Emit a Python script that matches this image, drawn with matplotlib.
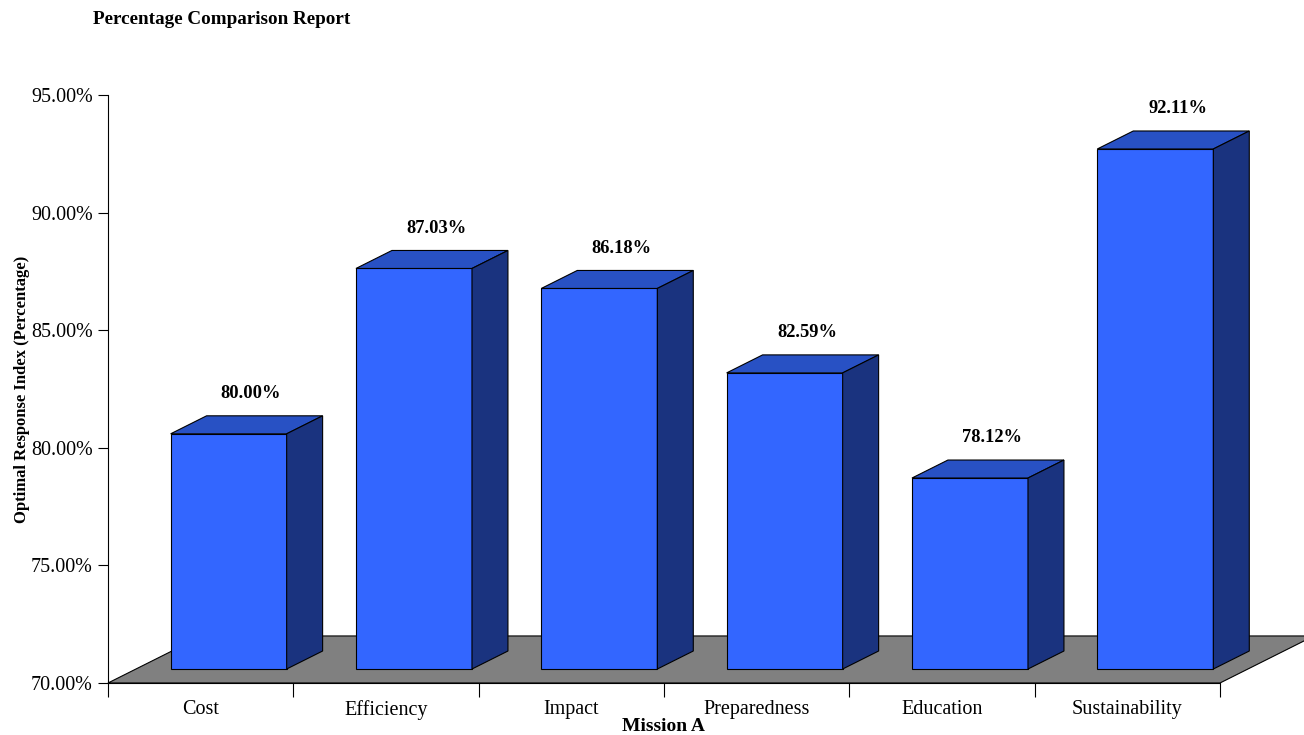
import matplotlib.pyplot as plt
from matplotlib.patches import Polygon

categories = ["Cost", "Efficiency", "Impact", "Preparedness", "Education", "Sustainability"]
values = [80.00, 87.03, 86.18, 82.59, 78.12, 92.11]
labels = ["80.00%", "87.03%", "86.18%", "82.59%", "78.12%", "92.11%"]

plt.rcParams['font.family'] = ['Liberation Serif', 'DejaVu Serif']

fig = plt.figure(figsize=(13.04, 7.35), dpi=100)
ax = fig.add_axes([108/1304, 52/735, 1112/1304, 588/735])

ymin, ymax = 70, 95
ax.set_xlim(0, 6)
ax.set_ylim(ymin, ymax)

# pseudo 3d offsets in data units
fdx, fdy = 0.507, 2.0      # floor depth
sdx, sdy = 0.151, 0.595    # bar front shift
bdx, bdy = 0.194, 0.765    # bar depth
bw = 0.626

floor = Polygon([(0, ymin), (6, ymin), (6+fdx, ymin+fdy), (fdx, ymin+fdy)],
                closed=True, facecolor="#808080", edgecolor="black", lw=0.8,
                clip_on=False, zorder=1)
ax.add_patch(floor)

for i, v in enumerate(values):
    x0 = i + 0.5 - bw/2 + sdx
    x1 = x0 + bw
    y0 = ymin + sdy
    y1 = v + sdy
    front = Polygon([(x0, y0), (x1, y0), (x1, y1), (x0, y1)], closed=True,
                    facecolor="#3366FF", edgecolor="black", lw=0.8, clip_on=False, zorder=3)
    top = Polygon([(x0, y1), (x1, y1), (x1+bdx, y1+bdy), (x0+bdx, y1+bdy)], closed=True,
                  facecolor="#2851C4", edgecolor="black", lw=0.8, clip_on=False, zorder=3)
    side = Polygon([(x1, y0), (x1+bdx, y0+bdy), (x1+bdx, y1+bdy), (x1, y1)], closed=True,
                   facecolor="#1A337F", edgecolor="black", lw=0.8, clip_on=False, zorder=3)
    ax.add_patch(front)
    ax.add_patch(top)
    ax.add_patch(side)
    ax.text(i + 0.5 + 0.272, v + 2.3, labels[i], ha="center", va="center",
            fontsize=13.3, fontweight="bold", zorder=4)

ax.spines['top'].set_visible(False)
ax.spines['right'].set_visible(False)
ax.spines['left'].set_zorder(5)
ax.spines['bottom'].set_zorder(5)

ax.set_yticks([70, 75, 80, 85, 90, 95])
ax.set_yticklabels(["70.00%", "75.00%", "80.00%", "85.00%", "90.00%", "95.00%"], fontsize=14.4)
ax.tick_params(axis='y', length=7, pad=4)

ax.set_xticks(range(7))
ax.set_xticklabels([])
ax.set_xticks([i + 0.5 for i in range(6)], minor=True)
ax.set_xticklabels(categories, minor=True, fontsize=14.5)
ax.tick_params(axis='x', which='major', length=10)
ax.tick_params(axis='x', which='minor', length=0, pad=12)

ax.set_xlabel("Mission A", fontsize=14, fontweight="bold", labelpad=-1)
ax.set_ylabel("Optimal Response Index (Percentage)", fontsize=12, fontweight="bold", labelpad=1)

fig.text(93/1304, 1 - 20/735, "Percentage Comparison Report", fontsize=13.8,
         fontweight="bold", ha="left", va="center")

fig.savefig("out.png", dpi=100)
